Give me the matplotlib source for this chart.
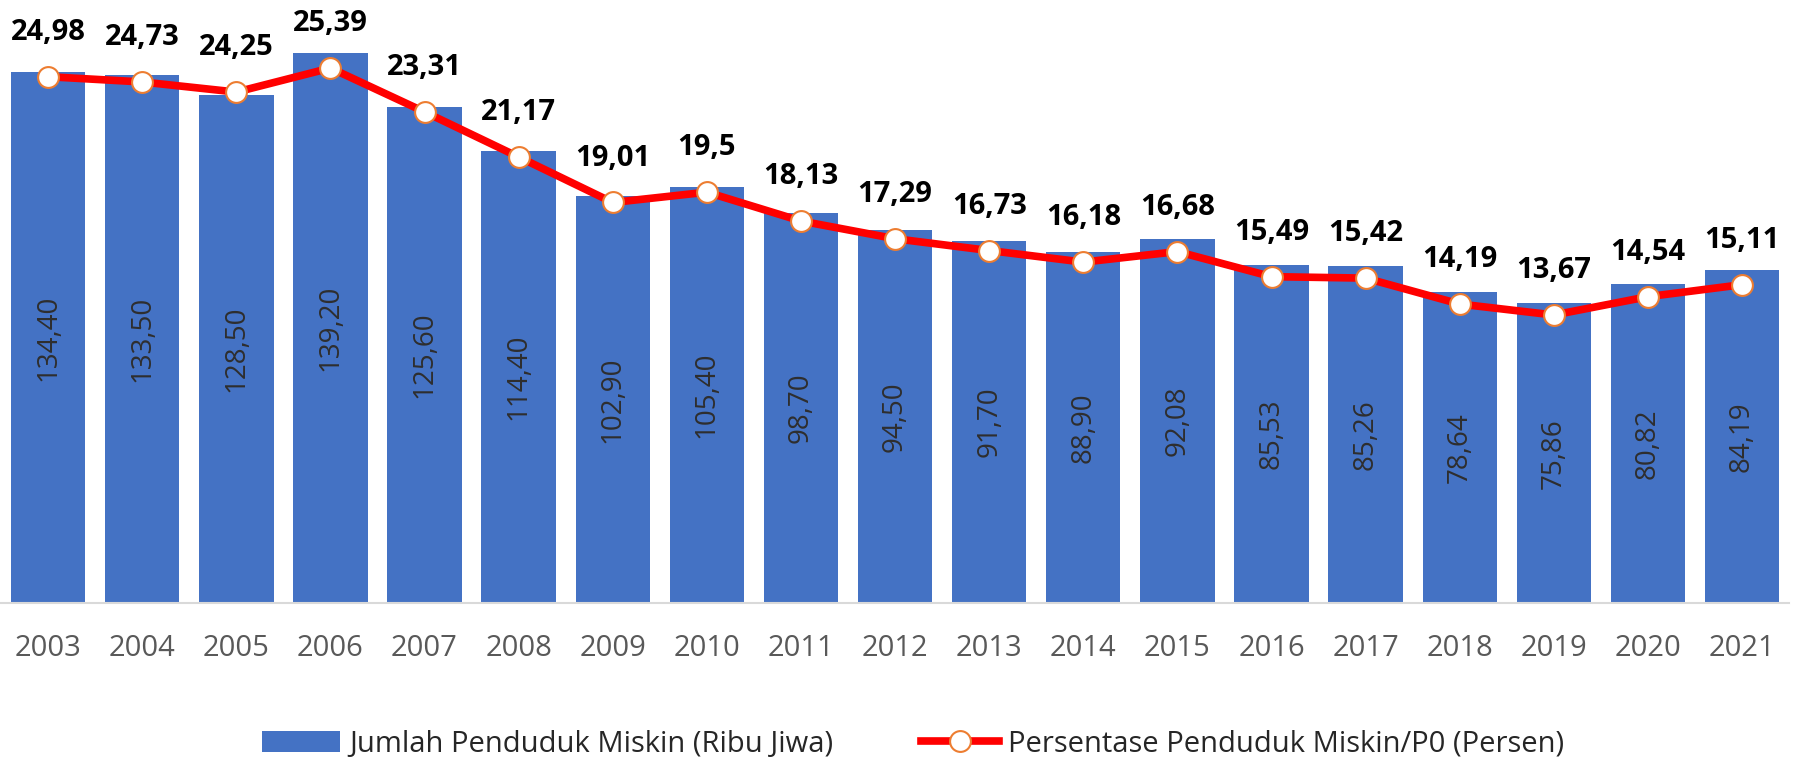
import numpy as np
import matplotlib
matplotlib.use('Agg')
import matplotlib.pyplot as plt

# data jumlah dan persentase penduduk miskin
tahun = ['2003', '2004', '2005', '2006', '2007', '2008', '2009', '2010', '2011', '2012',
         '2013', '2014', '2015', '2016', '2017', '2018', '2019', '2020', '2021']
jumlah = [134.40, 133.50, 128.50, 139.20, 125.60, 114.40, 102.90, 105.40, 98.70, 94.50,
          91.70, 88.90, 92.08, 85.53, 85.26, 78.64, 75.86, 80.82, 84.19]
persen = [24.98, 24.73, 24.25, 25.39, 23.31, 21.17, 19.01, 19.5, 18.13, 17.29,
          16.73, 16.18, 16.68, 15.49, 15.42, 14.19, 13.67, 14.54, 15.11]
lbl_jumlah = 'Jumlah Penduduk Miskin (Ribu Jiwa)'
lbl_persen = 'Persentase Penduduk Miskin/P0 (Persen)'

plt.rcParams['font.family'] = ['Open Sans', 'DejaVu Sans']

fig = plt.figure(figsize=(17.97, 7.64), dpi=100)
ax = fig.add_axes([0.0006, 0.2107, 0.9950, 0.7893])
x = np.arange(len(tahun))

bars = ax.bar(x, jumlah, width=0.79, color='#4472C4', label=lbl_jumlah, zorder=2)
ax.set_ylim(0, 152.6)
ax.set_xlim(-0.5, len(tahun) - 0.5)
ax.set_yticks([])
ax.set_xticks(x)
ax.set_xticklabels(tahun, fontsize=21, color='#595959')
ax.tick_params(axis='x', length=0, pad=22)
for s in ['top', 'right', 'left']:
    ax.spines[s].set_visible(False)
ax.spines['bottom'].set_color('#D9D9D9')
ax.spines['bottom'].set_linewidth(1.5)

# label angka di tengah batang
for i in range(len(jumlah)):
    ax.text(x[i], jumlah[i] / 2, '{:.2f}'.format(jumlah[i]).replace('.', ','),
            rotation=90, ha='center', va='center', fontsize=20, color='#2e2e2e', zorder=3)

ax2 = ax.twinx()
ax2.set_ylim(0, 28.62)
ax2.set_yticks([])
for s in ['top', 'right', 'left', 'bottom']:
    ax2.spines[s].set_visible(False)
garis, = ax2.plot(x, persen, color='#FF0000', lw=5.5, marker='o', markersize=15,
                  markerfacecolor='white', markeredgecolor='#ED7D31', markeredgewidth=1.5,
                  label=lbl_persen, zorder=4)

for i in range(len(persen)):
    teks = str(persen[i]).replace('.', ',')
    if len(teks.split(',')[1]) == 1 and persen[i] != 19.5:
        teks = teks + '0'
    ax2.annotate(teks, (x[i], persen[i]), xytext=(0, 32), textcoords='offset points',
                 ha='center', va='center', fontsize=21, fontweight='bold', color='black')

fig.legend([bars, garis], [lbl_jumlah, lbl_persen], loc='center', bbox_to_anchor=(0.508, 0.026),
           ncol=2, frameon=False, fontsize=21, labelcolor='#262626', handlelength=2.7,
           handletextpad=0.3, columnspacing=3.0)

fig.savefig('out.png', dpi=100)
